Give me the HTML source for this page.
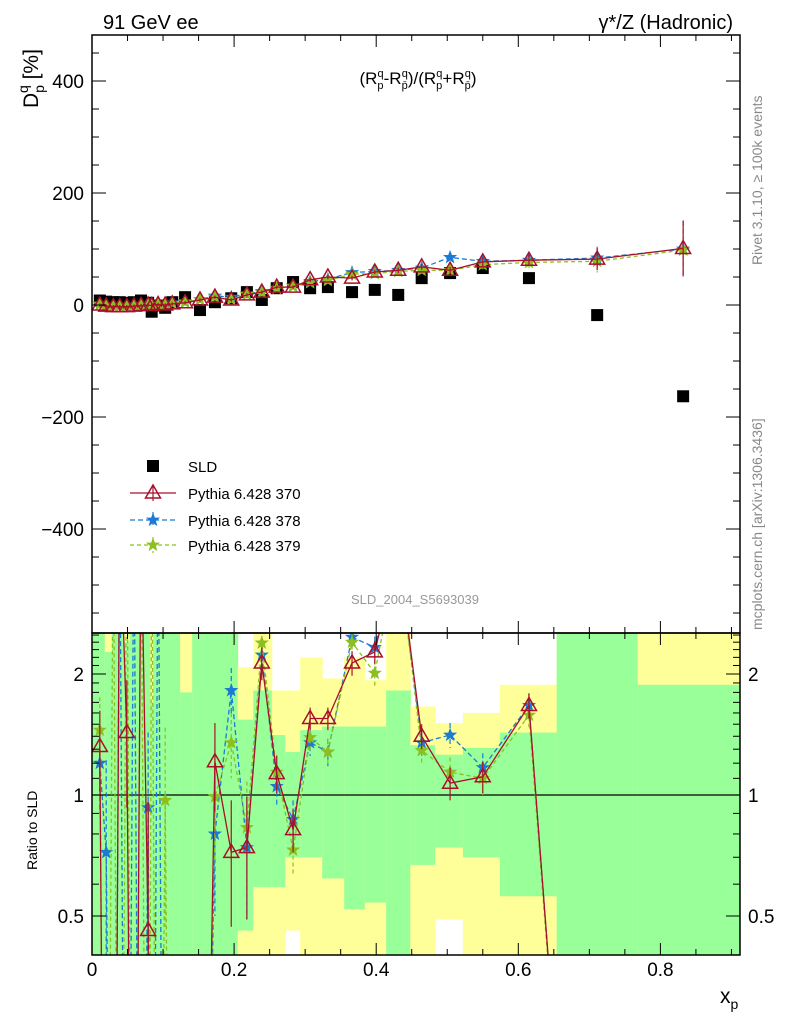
<!DOCTYPE html>
<html><head><meta charset="utf-8">
<style>
html,body{margin:0;padding:0;background:#fff;overflow:hidden;width:786px;height:1024px;}
svg{display:block;font-family:"Liberation Sans",sans-serif;}
</style></head>
<body>
<svg id="c" width="786" height="1024" viewBox="0 0 786 1024" xmlns="http://www.w3.org/2000/svg">
<defs>
<clipPath id="clipTop"><rect x="92" y="35" width="648" height="598"/></clipPath>
<clipPath id="clipRat"><rect x="92" y="633" width="648" height="322"/></clipPath>
</defs>
<g id="bands" clip-path="url(#clipRat)"></g>
<g id="topG" clip-path="url(#clipTop)"></g>
<g id="rat" clip-path="url(#clipRat)"></g>
<g id="axes"></g>
<text x="103" y="29" font-size="20">91 GeV ee</text>
<text x="733" y="29" font-size="20" text-anchor="end">γ*/Z (Hadronic)</text>
<g transform="translate(38,108) rotate(-90)"><text font-size="21">D<tspan font-size="14" dy="6">p</tspan><tspan font-size="14" dx="-8" dy="-16">q</tspan><tspan dy="10"> [%]</tspan></text></g>
<text x="418" y="84" font-size="17" text-anchor="middle">(R<tspan font-size="11" dy="5">p</tspan><tspan font-size="11" dx="-6" dy="-12">q</tspan><tspan dy="7">-R</tspan><tspan font-size="11" dy="5">p̄</tspan><tspan font-size="11" dx="-6" dy="-12">q</tspan><tspan dy="7">)/(R</tspan><tspan font-size="11" dy="5">p</tspan><tspan font-size="11" dx="-6" dy="-12">q</tspan><tspan dy="7">+R</tspan><tspan font-size="11" dy="5">p̄</tspan><tspan font-size="11" dx="-6" dy="-12">q</tspan><tspan dy="7">)</tspan></text>
<text transform="translate(762,265) rotate(-90)" font-size="14" fill="#888">Rivet 3.1.10, ≥ 100k events</text>
<text transform="translate(762,630) rotate(-90)" font-size="14" fill="#888">mcplots.cern.ch [arXiv:1306.3436]</text>
<text x="415" y="604" font-size="13" fill="#999" text-anchor="middle">SLD_2004_S5693039</text>
<text transform="translate(37,870) rotate(-90)" font-size="14">Ratio to SLD</text>
<text x="720" y="1003" font-size="21">x<tspan font-size="14" dy="6">p</tspan></text>
<g id="legend"></g>
</svg>
<script>
const xs=[0.011,0.020,0.030,0.039,0.049,0.059,0.069,0.079,0.084,0.093,0.103,0.113,0.131,0.152,0.173,0.196,0.218,0.239,0.260,0.283,0.307,0.332,0.366,0.398,0.431,0.464,0.504,0.550,0.615,0.711,0.832];
const sld=[8,6,5,5,4,5,8,4,-12,-1,-5,5,14,-9,5,12,23,9,30,41,30,32,23,27,18,48,57,66,48,-18,-163];
const mc370=[0,-2,-3,-3,-3,-2,-1,0,-1,1,0,2,4,9,14,9,18,23,32,32,45,50,48,59,62,68,62,77,80,82,101];
const mc378=[2,0,-1,-1,-1,0,1,1,0,2,2,4,6,10,16,14,20,24,30,34,42,46,58,60,62,66,85,78,80,84,100];
const mc379=[1,-1,-2,-2,-2,-1,0,0,-1,1,1,3,5,10,14,10,19,22,30,33,40,44,55,56,60,62,62,72,76,78,98];
const errTop=[3,3,3,3,3,3,3,3,3,3,3,3,3,3,3,3,3,3,3,3,4,4,4,4,5,5,6,8,10,20,50];
const r370=[1.32,-1,-1,5,1.43,-1,5,0.46,-1,-1,-1,-1,-1,-1,1.21,0.72,0.74,2.13,1.13,0.82,1.55,1.55,2.13,2.27,4,1.40,1.07,1.11,1.67,-5,-0.6];
const r378=[1.2,0.72,-1,5,-1,5,-1,0.93,-1,5,-1,-1,-1,-1,0.80,1.82,0.74,2.23,1.05,0.87,1.35,1.28,2.47,2.33,4,1.35,1.41,1.17,1.67,-5,-0.6];
const r379=[1.45,-1,5,-1,5,-1,5,-1,5,-1,0.97,-1,-1,-1,0.99,1.35,0.83,2.39,1.14,0.73,1.39,1.28,2.40,2.01,4,1.29,1.14,1.10,1.58,-5,-0.6];
const rErr=[0.3,0.5,0.5,0.5,0.5,0.5,0.5,0.5,0.5,0.5,0.5,0.5,0.5,0.5,0.3,0.25,0.25,0.2,0.12,0.1,0.1,0.1,0.15,0.15,0.2,0.1,0.1,0.1,0.12,0.5,0.5];
const binLo=[0,0.018,0.028,0.044,0.053,0.082,0.086,0.124,0.141,0.205,0.227,0.253,0.272,0.293,0.324,0.355,0.384,0.414,0.448,0.483,0.522,0.574,0.654,0.768];
const binHi=[0.018,0.028,0.044,0.053,0.082,0.086,0.124,0.141,0.205,0.227,0.253,0.272,0.293,0.324,0.355,0.384,0.414,0.448,0.483,0.522,0.574,0.654,0.768,0.912];
const yelLo=[0.1,0.1,0.1,0.1,0.1,0.1,0.1,0.1,0.1,0.1,0.1,0.1,0.46,0.1,0.1,0.1,0.1,0.1,0.1,0.49,0.1,0.1,0.1,0.1];
const grnLo=[0.1,0.1,0.1,0.1,0.1,0.1,0.1,0.1,0.1,0.46,0.59,0.59,0.70,0.70,0.62,0.52,0.54,0.1,0.67,0.74,0.70,0.56,0.1,0.1];
const grnHi=[10,2.27,10,2.4,10,1.7,10,1.8,10,1.54,1.82,1.41,1.28,1.45,1.48,1.48,1.48,1.82,1.33,1.26,1.31,1.43,10,1.88];
const yelHi=[10,10,10,10,10,10,10,10,10,2.08,10,1.82,1.82,2.2,1.95,2.2,1.93,10,1.66,1.51,1.6,1.88,10,10];
const topTicks=[400,200,0,-200,-400];
const topTickLabels=["400","200","0","\u2212200","\u2212400"];
const xTicks=[0,0.2,0.4,0.6,0.8];
const xTickLabels=["0","0.2","0.4","0.6","0.8"];
const ratTicks=[2,1,0.5];
const ratTickLabels=["2","1","0.5"];

const NS="http://www.w3.org/2000/svg";
const X=v=>92+710.5*v;
const Y=v=>305-0.56*v;
const R=v=>{const c=v<=0?0.01:v;return 795-121*Math.log2(c);};
function mk(tag,attrs,parent){const e=document.createElementNS(NS,tag);for(const k in attrs)e.setAttribute(k,attrs[k]);parent.appendChild(e);return e;}
const bandsG=document.getElementById('bands'),topG=document.getElementById('topG'),ratG=document.getElementById('rat'),axesG=document.getElementById('axes'),legendG=document.getElementById('legend');

for(let i=0;i<binLo.length;i++){
  const y=mk('rect',{x:X(binLo[i]),y:R(yelHi[i]),width:X(binHi[i])-X(binLo[i])+0.5,height:R(yelLo[i])-R(yelHi[i]),fill:'#ffff99'},bandsG);
  
  
  const g=mk('rect',{x:X(binLo[i]),y:R(grnHi[i]),width:X(binHi[i])-X(binLo[i])+0.5,height:R(grnLo[i])-R(grnHi[i]),fill:'#99ff99'},bandsG);
  
  
}
const one=mk('line',{x1:92,x2:740,y1:R(1),y2:R(1),stroke:'#000','stroke-width':1.2},ratG);



function star(cx,cy,r,color,parent,name){
  let p=[];for(let k=0;k<10;k++){const a=-Math.PI/2+k*Math.PI/5;const rr=k%2?r*0.42:r;p.push((cx+rr*Math.cos(a)).toFixed(1)+','+(cy+rr*Math.sin(a)).toFixed(1));}
  const s=mk('polygon',{points:p.join(' '),fill:color,stroke:color,'stroke-width':1},parent);
  
  
}
function tri(cx,cy,color,parent,name){
  const t=mk('polygon',{points:`${cx},${cy-8} ${cx-7.5},${cy+5} ${cx+7.5},${cy+5}`,fill:'none',stroke:color,'stroke-width':1.5},parent);
  
  
}
const series=[
  {vals:mc378,rv:r378,color:'#1a7ad4',dash:'5,3',mark:'star',name:'pythia-378'},
  {vals:mc379,rv:r379,color:'#8cbf1f',dash:'4,3',mark:'star',name:'pythia-379'},
  {vals:mc370,rv:r370,color:'#a8102a',dash:'',mark:'tri',name:'pythia-370'}
];
for(let i=0;i<xs.length;i++){
  const q=mk('rect',{x:X(xs[i])-6,y:Y(sld[i])-6,width:12,height:12,fill:'#000'},topG);
  
  
}
series.forEach(s=>{
  const pts=xs.map((x,i)=>X(x).toFixed(1)+','+Y(s.vals[i]).toFixed(1)).join(' ');
  const l=mk('polyline',{points:pts,fill:'none',stroke:s.color,'stroke-width':1.3,'stroke-dasharray':s.dash},topG);
  
  
  const rp=xs.map((x,i)=>X(x).toFixed(1)+','+R(s.rv[i]).toFixed(1)).join(' ');
  const rl=mk('polyline',{points:rp,fill:'none',stroke:s.color,'stroke-width':1.3,'stroke-dasharray':s.dash},ratG);
  
  
  for(let i=0;i<xs.length;i++){
    const cx=X(xs[i]);
    const e=mk('line',{x1:cx,x2:cx,y1:Y(s.vals[i]+errTop[i]),y2:Y(s.vals[i]-errTop[i]),stroke:s.color,'stroke-width':1.2,'stroke-dasharray':s.dash},topG);
    
    
    const re=mk('line',{x1:cx,x2:cx,y1:R(s.rv[i]+rErr[i]),y2:R(s.rv[i]-rErr[i]),stroke:s.color,'stroke-width':1.2,'stroke-dasharray':s.dash},ratG);
    
    
    if(s.mark==='star'){star(cx,Y(s.vals[i]),6,s.color,topG,s.name+'-point');star(cx,R(s.rv[i]),6,s.color,ratG,s.name+'-ratio-point');}
    else{tri(cx,Y(s.vals[i]),s.color,topG,s.name+'-point');tri(cx,R(s.rv[i]),s.color,ratG,s.name+'-ratio-point');}
  }
});
[[35,598],[633,322]].forEach(([y,h])=>{const f=mk('rect',{x:92,y:y,width:648,height:h,fill:'none',stroke:'#000','stroke-width':1.5},axesG);

});
for(let v=0;v<=0.91;v+=0.05){const px=X(v);const major=Math.abs(v/0.2-Math.round(v/0.2))<1e-6;const L=major?12:6;
  [[35,1],[633,1],[633,-1],[955,-1]].forEach(([y,d])=>mk('line',{x1:px,x2:px,y1:y,y2:y+d*L,stroke:'#000','stroke-width':1},axesG));}
xTicks.forEach((v,i)=>{const t=mk('text',{x:X(v),y:976,'font-size':19,'text-anchor':'middle'},axesG);t.textContent=xTickLabels[i];

});
for(let v=-550;v<=450;v+=50){const py=Y(v);const major=v%200===0;const L=major?14:7;
  mk('line',{x1:92,x2:92+L,y1:py,y2:py,stroke:'#000'},axesG);mk('line',{x1:740,x2:740-L,y1:py,y2:py,stroke:'#000'},axesG);}
topTicks.forEach((v,i)=>{const t=mk('text',{x:84,y:Y(v)+7,'font-size':19,'text-anchor':'end'},axesG);t.textContent=topTickLabels[i];

});
[0.4,0.5,0.6,0.7,0.8,0.9,1,1.1,1.2,1.3,1.4,1.5,1.6,1.7,1.8,1.9,2,2.1,2.2,2.3,2.4,2.5].forEach(v=>{const py=R(v);if(py<633||py>955)return;const major=ratTicks.includes(v);const L=major?14:7;
  mk('line',{x1:92,x2:92+L,y1:py,y2:py,stroke:'#000'},axesG);mk('line',{x1:740,x2:740-L,y1:py,y2:py,stroke:'#000'},axesG);});
ratTicks.forEach((v,i)=>{const t=mk('text',{x:84,y:R(v)+7,'font-size':19,'text-anchor':'end'},axesG);t.textContent=ratTickLabels[i];


const t2=mk('text',{x:748,y:R(v)+7,'font-size':19},axesG);t2.textContent=ratTickLabels[i];

});
const sq=mk('rect',{x:147,y:460,width:12,height:12,fill:'#000'},legendG);


const lt=mk('text',{x:188,y:472,'font-size':15},legendG);lt.textContent='SLD';


const leg=[['Pythia 6.428 370','#a8102a','',493,'tri'],['Pythia 6.428 378','#1a7ad4','5,3',520,'star'],['Pythia 6.428 379','#8cbf1f','4,3',545,'star']];
leg.forEach(([lab,col,dash,y,m])=>{
  const l=mk('line',{x1:130,x2:176,y1:y,y2:y,stroke:col,'stroke-width':1.3,'stroke-dasharray':dash},legendG);
  
  
  const e=mk('line',{x1:153,x2:153,y1:y-8,y2:y+8,stroke:col,'stroke-width':1.2,'stroke-dasharray':dash},legendG);
  
  
  if(m==='tri')tri(153,y,col,legendG,'legend-marker');else star(153,y,6,col,legendG,'legend-marker');
  const t=mk('text',{x:188,y:y+6,'font-size':15},legendG);t.textContent=lab;
  
  
});
</script>
</body></html>
